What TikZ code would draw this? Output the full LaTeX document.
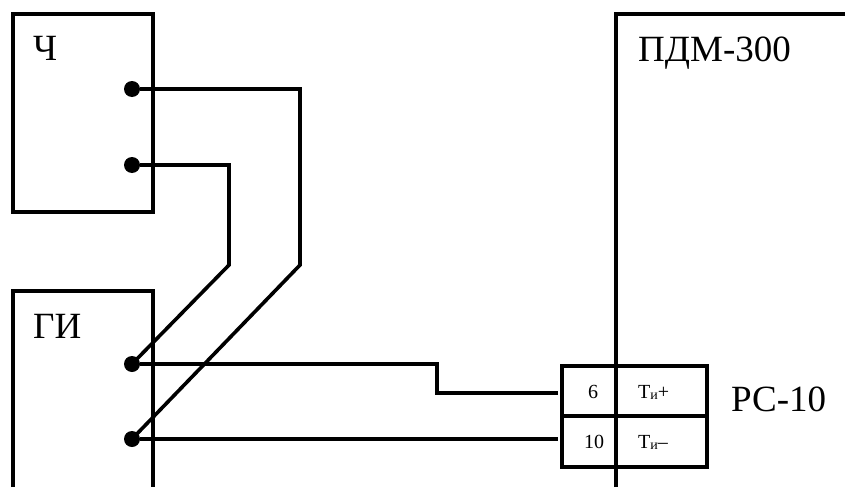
\documentclass[tikz,border=0pt]{standalone}
\usepackage{fontspec}
\setmainfont{Liberation Serif}
\newcommand{\subsz}[1]{{\fontsize{14}{16}\selectfont\raisebox{-1.5pt}{#1}}}
\begin{document}
\begin{tikzpicture}[x=1pt,y=-1pt,
  wire/.style={line width=3.6pt,black,line join=miter},
  frame/.style={line width=4pt,black,line join=miter},
  dotn/.style={circle,fill=black,inner sep=0pt,minimum size=16pt},
  big/.style={inner sep=0pt,anchor=base west,font=\fontsize{37}{40}\selectfont},
  small/.style={inner sep=0pt,anchor=base,font=\fontsize{20}{22}\selectfont}]
\useasboundingbox (0,0) rectangle (845,487);
\fill[white] (0,0) rectangle (845,487);
\coordinate (a1) at (13,487); \coordinate (a2) at (13,291); \coordinate (a3) at (153,291); \coordinate (a4) at (153,487);
\draw[frame] (a1)--(a2)--(a3)--(a4);
\draw[frame] (13,14) rectangle (153,212);
\draw[frame] (616,487)--(616,14)--(845,14);
\draw[frame] (562,366) rectangle (707,467);
\draw[frame] (562,416)--(707,416);
\node[dotn] (c1) at (132,89) {};
\node[dotn] (c2) at (132,165) {};
\node[dotn] (g1) at (132,364) {};
\node[dotn] (g2) at (132,439) {};
\coordinate (p1) at (300,89); \coordinate (p2) at (300,265);
\coordinate (q1) at (229,165); \coordinate (q2) at (229,265);
\draw[wire] (c1)--(p1)--(p2)--(g2.center);
\draw[wire] (c2)--(q1)--(q2)--(g1.center);
\coordinate (t6) at (558,393); \coordinate (t10) at (558,439);
\draw[wire] (g1)--(437,364)--(437,393)--(t6);
\draw[wire] (g2)--(t10);
\node[big] (l1) at (33,60) {Ч};
\node[big] (l2) at (33,338) {ГИ};
\node[big] (l3) at (638,61) {ПДМ-300};
\node[big] (l4) at (731,411) {РС-10};
\node[small] (n6) at (593,398) {6};
\node[small] (n10) at (594,448) {10};
\node[small,anchor=base west] (t1) at (638,398) {Т\subsz{и}+};
\node[small,anchor=base west] (t2) at (638,448) {Т\subsz{и}–};
\end{tikzpicture}
\end{document}
